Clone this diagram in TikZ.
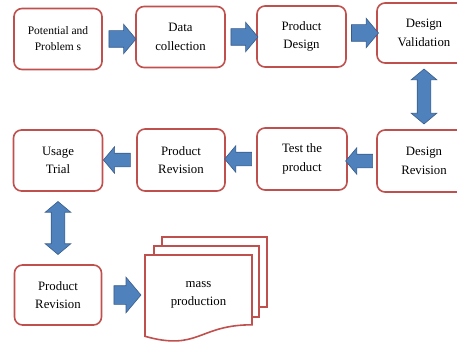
\documentclass[tikz,border=0pt]{standalone}
\usepackage{fontspec}
\setmainfont{Liberation Serif}
\usetikzlibrary{shapes.arrows}
\definecolor{boxred}{RGB}{192,80,77}
\definecolor{arrowblue}{RGB}{79,129,189}
\definecolor{arrowline}{RGB}{56,93,138}
\begin{document}
\begin{tikzpicture}[x=1pt, y=-1pt]
\tikzset{stage/.style = {draw=boxred, line width=1.6pt, rounded corners=8pt, fill=white, align=center, inner sep=0pt, minimum width=88pt, minimum height=61pt, font=\fontsize{12.8}{18.5}\selectfont}}
\tikzset{page/.style = {draw=boxred, line width=1.6pt, fill=white}}
\tikzset{barrow/.style = {single arrow, draw=arrowline, fill=arrowblue, line width=0.6pt, inner sep=0pt, inner ysep=8pt, minimum height=27pt, single arrow head extend=6.5pt, single arrow tip angle=100, sloped, allow upside down}}
\tikzset{darrow/.style = {double arrow, draw=arrowline, fill=arrowblue, line width=0.6pt, inner sep=0pt, inner ysep=6.5pt, minimum height=55pt, double arrow head extend=6pt, double arrow tip angle=100, sloped}}
\useasboundingbox (0,0) rectangle (457,342);
% first row
\node[stage, font=\fontsize{11.5}{16}\selectfont](pp) at (58,39) {Potential and\\Problem s};
\node[stage, minimum width=89pt](dc) at (180.5,37) {Data\\collection};
\node[stage, minimum width=89pt](pd) at (301.5,36.5) {Product\\Design};
\node[stage, minimum width=94pt, minimum height=60pt](dv) at (424,33) {Design\\Validation};
% second row
\node[stage, minimum width=94pt, minimum height=62pt](dr) at (424,161) {Design\\Revision};
\node[stage, minimum width=90pt, minimum height=62pt](tp) at (302,159) {Test the\\product};
\node[stage, minimum height=62pt](pr1) at (181,160) {Product\\Revision};
\node[stage, minimum width=89pt](ut) at (58,160.5) {Usage\\Trial};
% third row
\node[stage, minimum width=87pt, minimum height=60pt](pr2) at (58,295) {Product\\Revision};
\draw[page] (162,237) rectangle (267,307);
\draw[page] (154,246) rectangle (259,317);
\draw[page] (145,255) -- (252,255) -- (252,324.8) .. controls (198.5,324.8) and (198.5,351.4) .. (145,336.3) -- cycle;
\node[align=center, inner sep=0pt, minimum width=107pt, minimum height=80pt, font=\fontsize{12.8}{18.5}\selectfont](mass) at (198.5,295) {mass\\production};
% arrows
\path (pp.east) -- node[barrow]{} (pp.east -| dc.west);
\path (dc.east) -- node[barrow]{} (dc.east -| pd.west);
\path (dv.west -| pd.east) -- node[barrow]{} (dv.west);
\path (dv) -- node[darrow]{} (dr);
\path (dr.west) -- node[barrow, inner ysep=6.5pt]{} (dr.west -| tp.east);
\path (tp.west) -- node[barrow, inner ysep=6.5pt]{} (tp.west -| pr1.east);
\path (pr1.west) -- node[barrow, inner ysep=6.5pt]{} (pr1.west -| ut.east);
\path (ut) -- node[darrow, minimum height=53pt]{} (pr2);
\path (pr2.east) -- node[barrow, inner ysep=9pt, single arrow head extend=8.5pt]{} (pr2.east -| mass.west);
\end{tikzpicture}
\end{document}
